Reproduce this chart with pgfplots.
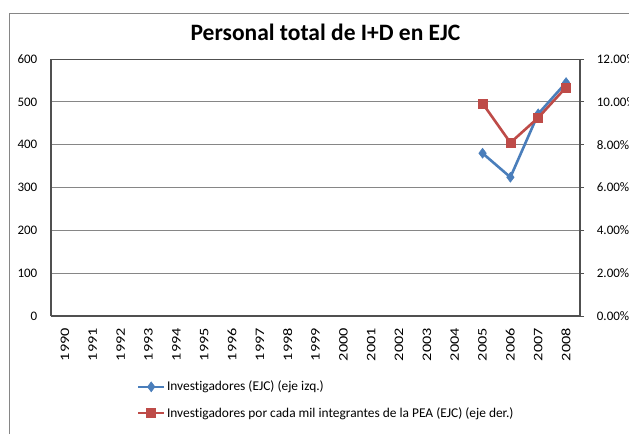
\documentclass[border=0pt]{standalone}
\usepackage{pgfplots}
\pgfplotsset{compat=1.18}
\usepackage{graphicx}
\usepackage{fontspec}
\setmainfont{Carlito}[Ligatures={NoCommon,NoContextual}]
\definecolor{serblue}{RGB}{74,126,187}
\definecolor{serred}{RGB}{190,75,72}
\definecolor{gridgray}{RGB}{134,134,134}
\definecolor{axisdark}{RGB}{80,80,80}
\newcommand{\yr}[1]{\scalebox{1.25}[1]{#1}}
\begin{document}
\begin{tikzpicture}[x=1pt,y=1pt]
\useasboundingbox (0,0) rectangle (629,-434);
\clip (0,0) rectangle (629,-434);
\fill[white] (0,0) rectangle (629,-434);
\draw[gridgray, line width=0.8pt] (9.5,-434) -- (9.5,-13) -- (640,-13);
\node[font=\fontsize{23.5}{26}\selectfont\bfseries, anchor=base, inner sep=0pt] at (325.5,-40) {Personal total de I+D en EJC};
\pgfplotsset{
  mybase/.style={
    scale only axis, width=529pt, height=257pt,
    at={(51pt,-316pt)}, anchor=south west,
    xmin=-0.5, xmax=18.5,
    /pgf/number format/assume math mode=true,
    tick label style={font=\fontsize{13}{15}\selectfont},
    axis line style={axisdark, line width=1.1pt},
  },
  mylegend/.style={
    legend image code/.code={
      \draw[mark repeat=2, mark phase=2, ##1] plot coordinates {(0pt,0pt) (13pt,0pt) (26pt,0pt)};
    },
  },
}
\begin{axis}[mybase, mylegend,
  ymin=0, ymax=600, ytick={0,100,...,600},
  ymajorgrids, grid style={gridgray, line width=0.8pt},
  xtick={0,...,18},
  xticklabels={\yr{1990},\yr{1991},\yr{1992},\yr{1993},\yr{1994},\yr{1995},\yr{1996},\yr{1997},\yr{1998},\yr{1999},\yr{2000},\yr{2001},\yr{2002},\yr{2003},\yr{2004},\yr{2005},\yr{2006},\yr{2007},\yr{2008}},
  xticklabel style={rotate=90, anchor=east, inner sep=0pt},
  xticklabel shift=12pt,
  yticklabel style={anchor=east, inner sep=0pt},
  yticklabel shift=13.5pt,
  major tick length=0pt,
  axis y line*=left, axis x line*=bottom,
  legend style={draw=none, fill=none, at={(0.162,-0.247)}, anchor=north west,
    font=\fontsize{13.4}{15}\selectfont, row sep=12pt, inner sep=0pt,
    nodes={inner sep=1.5pt}},
  legend cell align=left,
]
\addplot[serblue, line width=2.6pt, mark=diamond*, mark size=5pt, mark options={line width=0.5pt}]
  coordinates {(15,380) (16,324) (17,472) (18,545)};
\addlegendentry{Investigadores (EJC) (eje izq.)}
\addlegendimage{serred, line width=2.6pt, mark=square*, mark size=4.5pt, mark options={line width=0.5pt}}
\addlegendentry{Investigadores por cada mil integrantes de la PEA (EJC) (eje der.)}
\end{axis}
\begin{axis}[mybase,
  ymin=0, ymax=12, ytick={0,2,...,12},
  axis y line*=right, axis x line=none,
  yticklabel={\pgfmathprintnumber[fixed,fixed zerofill,precision=2]{\tick}\%},
  yticklabel style={anchor=west, inner sep=0pt},
  yticklabel shift=12.7pt,
  ytick style={axisdark, line width=0.8pt},
  major tick length=4pt, tick align=outside,
]
\draw[axisdark, line width=1.1pt] (rel axis cs:0,1) -- (rel axis cs:1,1);
\addplot[serred, line width=2.6pt, mark=square*, mark size=4.5pt, mark options={line width=0.5pt}]
  coordinates {(15,9.93) (16,8.09) (17,9.26) (18,10.68)};
\end{axis}
\end{tikzpicture}
\end{document}
